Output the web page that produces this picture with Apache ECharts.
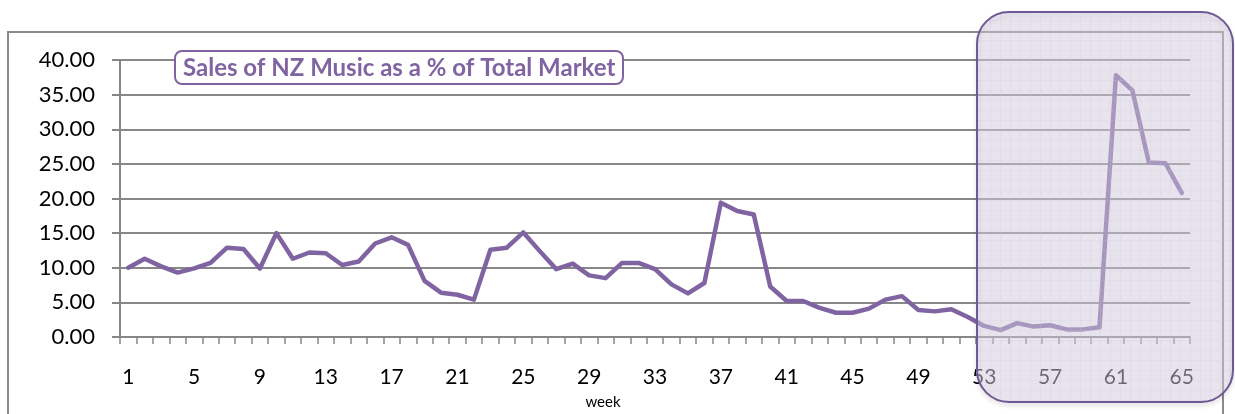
<!DOCTYPE html>
<html>
<head>
<meta charset="utf-8">
<script src="https://cdn.jsdelivr.net/npm/echarts@6/dist/echarts.min.js"></script>
<style>
html,body{margin:0;padding:0;background:#fff;}
#chart{width:1235px;height:414px;}
</style>
</head>
<body>
<div id="chart"></div>
<script>
// ---- data ----
const weeks = [];
for (let i = 1; i <= 65; i++) weeks.push(String(i));
const nzShare = [
  10.0, 11.3, 10.2, 9.3, 9.9, 10.7, 12.9, 12.7, 9.9, 15.0,
  11.3, 12.2, 12.1, 10.4, 10.9, 13.5, 14.4, 13.3, 8.1, 6.4,
  6.1, 5.4, 12.6, 12.9, 15.1, 12.4, 9.8, 10.6, 8.9, 8.5,
  10.7, 10.7, 9.8, 7.6, 6.3, 7.8, 19.4, 18.2, 17.7, 7.3,
  5.2, 5.2, 4.2, 3.5, 3.5, 4.1, 5.4, 5.9, 3.9, 3.7,
  4.0, 2.9, 1.6, 1.0, 2.0, 1.5, 1.7, 1.1, 1.1, 1.4,
  37.8, 35.6, 25.2, 25.1, 20.8
];
const yTicks = { min: 0, max: 40, interval: 5 };
const titleText = 'Sales of NZ Music as a % of Total Market';
const xAxisName = 'week';

// ---- overlay pattern ----
function makePattern() {
  const c = document.createElement('canvas');
  c.width = 10; c.height = 10;
  const g = c.getContext('2d');
  g.fillStyle = 'rgba(222,214,234,0.47)';
  g.fillRect(0, 0, 10, 10);
  g.fillStyle = 'rgba(205,198,220,0.22)';
  g.fillRect(0, 0, 10, 1);
  g.fillRect(0, 0, 1, 10);
  return c;
}

const chart = echarts.init(document.getElementById('chart'), null, { renderer: 'canvas' });
const FONT = 'Lato';
chart.setOption({
  animation: false,
  backgroundColor: '#fff',
  textStyle: { fontFamily: FONT },
  grid: { left: 120, right: 45, top: 60, bottom: 77, containLabel: false, outerBoundsMode: 'none' },
  title: {
    text: titleText,
    left: 175, top: 51,
    padding: [5, 8, 4, 8],
    backgroundColor: '#fff',
    borderColor: '#8064A2',
    borderWidth: 2,
    borderRadius: 7,
    textStyle: { color: '#8064A2', fontSize: 24, fontWeight: 'bold', fontFamily: FONT }
  },
  xAxis: {
    type: 'category',
    data: weeks,
    boundaryGap: true,
    name: xAxisName,
    nameLocation: 'middle',
    nameGap: 58,
    nameTextStyle: { color: '#000', fontSize: 15, fontFamily: FONT, padding: [0, 104, 0, 0] },
    axisLine: { lineStyle: { color: '#868686', width: 2 } },
    axisTick: { show: true, interval: 0, length: 7, lineStyle: { color: '#868686', width: 1.5 } },
    axisLabel: { interval: 3, color: '#000', fontSize: 21, margin: 30, fontFamily: FONT },
    splitLine: { show: false }
  },
  yAxis: {
    type: 'value',
    min: yTicks.min, max: yTicks.max, interval: yTicks.interval,
    axisLine: { show: true, lineStyle: { color: '#868686', width: 2 } },
    axisTick: { show: true, length: 8, lineStyle: { color: '#868686', width: 2 } },
    axisLabel: { color: '#000', fontSize: 22, margin: 25, fontFamily: FONT,
      formatter: v => v.toFixed(2) },
    splitLine: { lineStyle: { color: '#878787', width: 2 } }
  },
  series: [{
    type: 'line',
    data: nzShare,
    symbol: 'none',
    lineStyle: { color: '#8064A2', width: 4.5, join: 'round', cap: 'round' },
    z: 3
  }],
  graphic: [
    { type: 'rect', z: -10, silent: true,
      shape: { x: 8, y: 32, width: 1215, height: 420 },
      style: { fill: 'none', stroke: '#8a8a8a', lineWidth: 2 } },
    { type: 'rect', z: 100, silent: true,
      shape: { x: 977, y: 12, width: 256, height: 390, r: 32 },
      style: { fill: { image: makePattern(), repeat: 'repeat' }, stroke: '#6f5896', lineWidth: 2,
        shadowBlur: 4, shadowOffsetY: 3, shadowColor: 'rgba(0,0,0,0.12)' } }
  ]
});
</script>
</body>
</html>
